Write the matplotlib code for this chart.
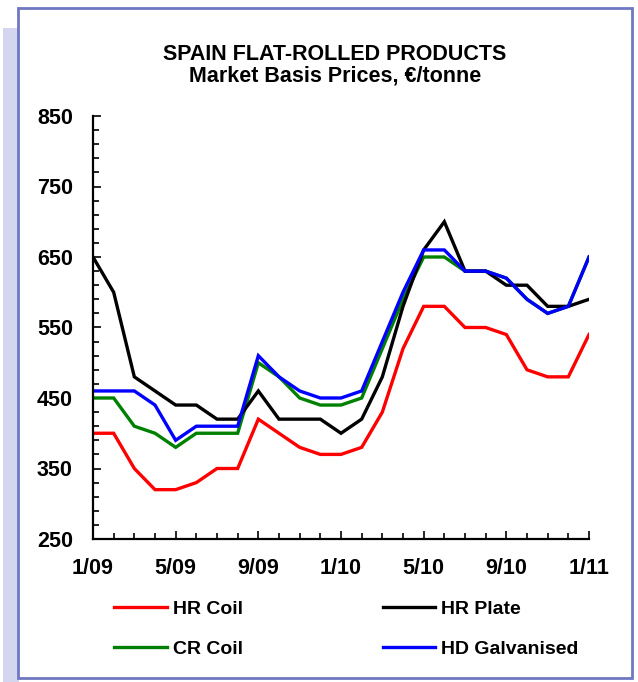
import matplotlib
matplotlib.use("Agg")
import matplotlib.pyplot as plt
from matplotlib.patches import Rectangle
from matplotlib.ticker import MultipleLocator, FixedLocator

plt.rcParams["font.family"] = ["Liberation Sans", "DejaVu Sans"]
plt.rcParams["font.weight"] = "bold"

# monthly prices, Jan 2009 .. Jan 2011
months = list(range(25))
tick_labels = ["1/09", "5/09", "9/09", "1/10", "5/10", "9/10", "1/11"]

hr_coil = [400, 400, 350, 320, 320, 330, 350, 350, 420, 400, 380, 370, 370,
           380, 430, 520, 580, 580, 550, 550, 540, 490, 480, 480, 540]
hr_plate = [650, 600, 480, 460, 440, 440, 420, 420, 460, 420, 420, 420, 400,
            420, 480, 580, 660, 700, 630, 630, 610, 610, 580, 580, 590]
cr_coil = [450, 450, 410, 400, 380, 400, 400, 400, 500, 480, 450, 440, 440,
           450, 520, 590, 650, 650, 630, 630, 620, 590, 570, 580, 650]
hd_galv = [460, 460, 460, 440, 390, 410, 410, 410, 510, 480, 460, 450, 450,
           460, 530, 600, 660, 660, 630, 630, 620, 590, 570, 580, 650]

W, H = 638, 682
fig = plt.figure(figsize=(W / 100, H / 100), dpi=100)
fig.patch.set_facecolor("white")

# lavender side strip and framed panel
fig.patches.append(Rectangle((3 / W, 0), 16 / W, (H - 28) / H, transform=fig.transFigure,
                             facecolor="#d3d6ee", edgecolor="none", zorder=0))
fig.patches.append(Rectangle((18 / W, 4 / H), 614 / W, 670 / H, transform=fig.transFigure,
                             facecolor="white", edgecolor="#6f78c2", linewidth=2, zorder=1))

ax = fig.add_axes([93 / W, 1 - 539 / H, (589 - 93) / W, (539 - 116) / H])
ax.set_zorder(3)
ax.set_facecolor("none")

ax.plot(months, hr_coil, color="#ff0000", lw=2.4, label="HR Coil", solid_joinstyle="miter")
ax.plot(months, cr_coil, color="#008000", lw=2.4, label="CR Coil", solid_joinstyle="miter")
ax.plot(months, hr_plate, color="#000000", lw=2.4, label="HR Plate", solid_joinstyle="miter")
ax.plot(months, hd_galv, color="#0000ff", lw=2.4, label="HD Galvanised", solid_joinstyle="miter")

ax.set_xlim(0, 24)
ax.set_ylim(250, 850)
ax.xaxis.set_major_locator(FixedLocator(list(range(0, 25, 4))))
ax.set_xticklabels(tick_labels)
ax.xaxis.set_minor_locator(MultipleLocator(1))
ax.yaxis.set_major_locator(MultipleLocator(100, offset=50))
ax.yaxis.set_minor_locator(MultipleLocator(20, offset=10))

for s in ["top", "right"]:
    ax.spines[s].set_visible(False)
for s in ["left", "bottom"]:
    ax.spines[s].set_linewidth(1.6)

ax.tick_params(axis="both", which="both", direction="in", width=1.2, labelsize=15.5)
ax.tick_params(axis="y", which="major", length=6, pad=14.5)
ax.tick_params(axis="y", which="minor", length=4)
ax.tick_params(axis="x", which="major", length=6, pad=14)
ax.tick_params(axis="x", which="minor", length=4)

fig.text(0.525, 1 - 54 / H, "SPAIN FLAT-ROLLED PRODUCTS", ha="center", va="center",
         fontsize=15.5, fontweight="bold")
fig.text(0.525, 1 - 76 / H, "Market Basis Prices, \u20ac/tonne", ha="center", va="center",
         fontsize=15.5, fontweight="bold")

handles, labels = ax.get_legend_handles_labels()
fig.legend(handles, labels, ncol=2, loc="upper left", frameon=False,
           bbox_to_anchor=(97 / W, 1 - 583 / H), fontsize=14,
           handlelength=2.7, handletextpad=0.3, columnspacing=7.2, labelspacing=1.15)

fig.savefig("out.png", dpi=100)
